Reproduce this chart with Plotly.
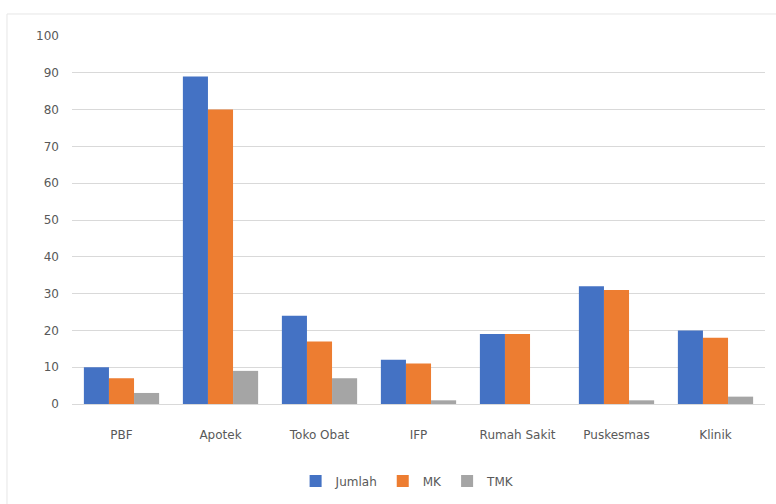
import plotly.graph_objects as go

categories = ["PBF", "Apotek", "Toko Obat", "IFP", "Rumah Sakit", "Puskesmas", "Klinik"]
jumlah = [10, 89, 24, 12, 19, 32, 20]
mk = [7, 80, 17, 11, 19, 31, 18]
tmk = [3, 9, 7, 1, 0, 1, 2]

series = [
    ("Jumlah", jumlah, "#4472C4"),
    ("MK", mk, "#ED7D31"),
    ("TMK", tmk, "#A5A5A5"),
]

fig = go.Figure()
for name, vals, color in series:
    fig.add_trace(go.Bar(x=categories, y=vals, name=name, marker_color=color,
                         marker_line_width=0))

font_family = "DejaVu Sans"
tick_color = "#595959"

fig.update_layout(
    width=776, height=504,
    margin=dict(l=72, r=11, t=36, b=100, autoexpand=False),
    paper_bgcolor="white", plot_bgcolor="white",
    barmode="group", bargap=0.24, bargroupgap=0,
    font=dict(family=font_family, size=11, color=tick_color),
    showlegend=True,
    legend=dict(orientation="h", x=0.485, xanchor="center", y=-0.17, yanchor="top",
                font=dict(size=12, color=tick_color), itemwidth=30,
                traceorder="normal"),
    xaxis=dict(showgrid=False, showline=False, ticks="", ticklabelstandoff=22,
               tickfont=dict(size=12, color=tick_color)),
    yaxis=dict(range=[0, 100], dtick=10, showgrid=True, gridcolor="#D9D9D9",
               gridwidth=1, zeroline=True, zerolinecolor="#D9D9D9", zerolinewidth=1,
               showline=False, ticks="", ticklabelstandoff=12,
               tickfont=dict(size=12, color=tick_color)),
    shapes=[dict(type="rect", xref="paper", yref="paper",
                 x0=-0.0938, x1=1.03, y0=-0.3, y1=1.0598,
                 line=dict(color="#E6E6E6", width=1), fillcolor="rgba(0,0,0,0)",
                 layer="below")],
)

fig.write_html("out.html")
